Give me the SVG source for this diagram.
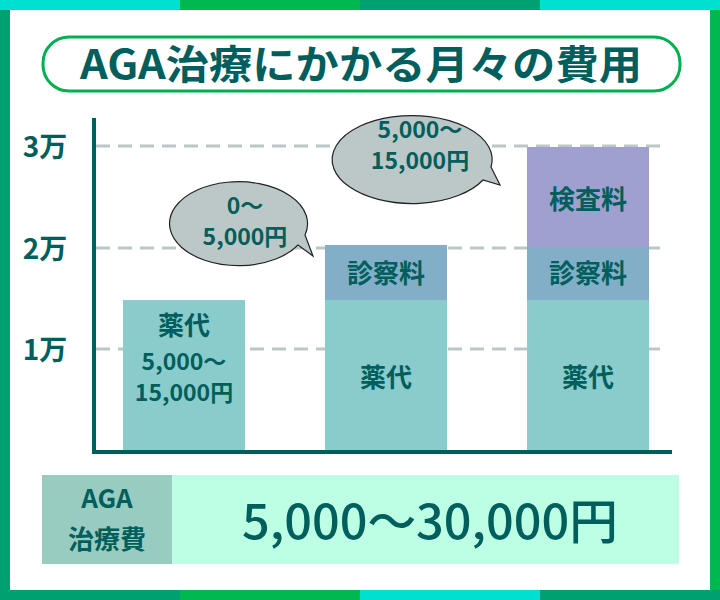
<svg xmlns="http://www.w3.org/2000/svg" width="720" height="600" viewBox="0 0 720 600">
<style>
text{font-family:"Noto Sans CJK JP","Noto Sans",sans-serif;font-weight:bold;fill:#005e5c;text-anchor:middle}
.grid{stroke:#bcc8c8;stroke-width:3;stroke-dasharray:14,8}
.bub{fill:#bcc8c8;stroke:#222;stroke-width:1.2}
.b1{fill:#8acccc}.b2{fill:#82aec8}.b3{fill:#a0a0d0}
</style>
<rect width="720" height="600" fill="#fff"/>
<g id="frame">
<rect x="0" y="0" width="10" height="600" fill="#00a070"/>
<rect x="710" y="0" width="10" height="600" fill="#00b850"/>
<rect x="0" y="0" width="180" height="10" fill="#00e0d0"/>
<rect x="180" y="0" width="180" height="10" fill="#00b850"/>
<rect x="360" y="0" width="180" height="10" fill="#00a070"/>
<rect x="540" y="0" width="180" height="10" fill="#00e0d0"/>
<rect x="0" y="590" width="180" height="10" fill="#00a070"/>
<rect x="180" y="590" width="180" height="10" fill="#00b850"/>
<rect x="360" y="590" width="180" height="10" fill="#00e0d0"/>
<rect x="540" y="590" width="180" height="10" fill="#00a070"/>
</g>
<g id="title">
<rect x="43" y="37" width="637" height="54" rx="26" fill="#fff" stroke="#00b050" stroke-width="3"/>
<text x="361" y="79" font-size="40" textLength="562" lengthAdjust="spacingAndGlyphs">AGA治療にかかる月々の費用</text>
</g>
<g id="grid">
<line class="grid" x1="96" y1="146" x2="660" y2="146"/>
<line class="grid" x1="96" y1="248" x2="660" y2="248"/>
<line class="grid" x1="96" y1="349" x2="660" y2="349"/>
<text x="45" y="157" font-size="28">3万</text>
<text x="45" y="259" font-size="28">2万</text>
<text x="45" y="360" font-size="28">1万</text>
</g>
<g id="bar1">
<rect class="b1" x="123" y="300" width="122" height="152"/>
<text x="184" y="335" font-size="26">薬代</text>
<text x="184" y="370" font-size="23">5,000〜</text>
<text x="184" y="401" font-size="23">15,000円</text>
</g>
<g id="bar2">
<rect class="b1" x="325" y="300" width="122" height="152"/>
<rect class="b2" x="325" y="245" width="122" height="55"/>
<text x="386" y="283" font-size="26">診察料</text>
<text x="386" y="387" font-size="26">薬代</text>
</g>
<g id="bar3">
<rect class="b1" x="527" y="300" width="122" height="152"/>
<rect class="b2" x="527" y="247" width="122" height="53"/>
<rect class="b3" x="527" y="147" width="122" height="100"/>
<text x="588" y="283" font-size="26">診察料</text>
<text x="588" y="209" font-size="26">検査料</text>
<text x="588" y="387" font-size="26">薬代</text>
</g>
<g id="axes">
<polyline points="94,118 94,452 672,452" fill="none" stroke="#005e5c" stroke-width="4"/>
</g>
<g id="bubble1">
<path class="bub" d="M298,245 A69,42 0 1,1 305,235 L313,256 Z"/>
<text x="245" y="214" font-size="23">0〜</text>
<text x="245" y="245" font-size="23">5,000円</text>
</g>
<g id="bubble2">
<path class="bub" d="M483,180 A80,44 0 1,1 491,167 L500,185 Z"/>
<text x="420" y="138" font-size="23">5,000〜</text>
<text x="420" y="169" font-size="23">15,000円</text>
</g>
<g id="total">
<rect x="42" y="475" width="130" height="89" fill="#98ccc0"/>
<rect x="172" y="475" width="507" height="89" fill="#bcffe4"/>
<text x="107" y="508" font-size="26">AGA</text>
<text x="107" y="549" font-size="26">治療費</text>
<text x="430" y="539" font-size="48" style="font-weight:500" textLength="376" lengthAdjust="spacingAndGlyphs">5,000〜30,000円</text>
</g>
</svg>
